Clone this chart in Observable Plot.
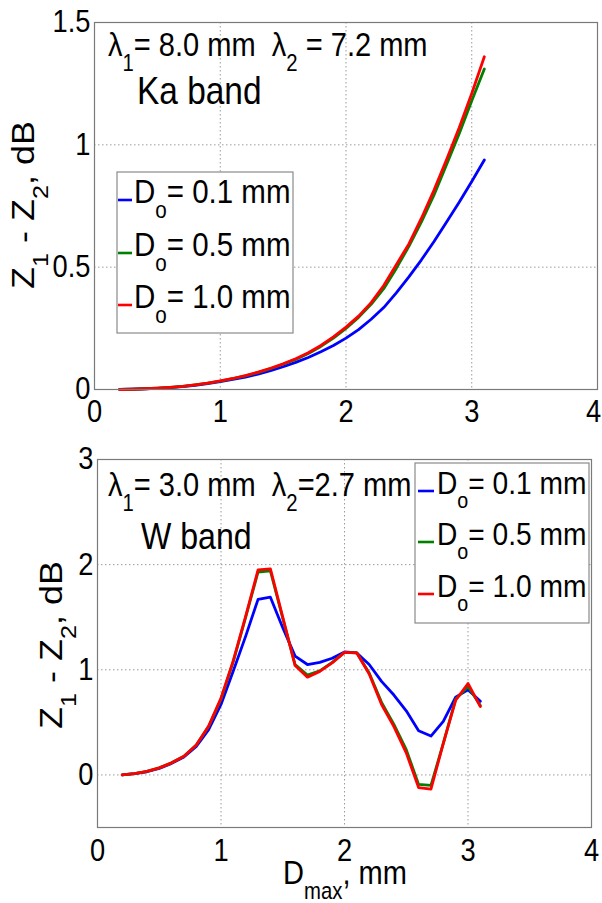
<!DOCTYPE html>
<html><head><meta charset="utf-8">
<script src="https://cdn.jsdelivr.net/npm/d3@7"></script>
<script src="https://cdn.jsdelivr.net/npm/@observablehq/plot@0.6"></script>
<style>
html,body{margin:0;padding:0;background:#fff;}
#chart{width:602px;height:903px;position:relative;overflow:hidden;}
#chart svg{display:block;}
</style></head><body><div id="chart"></div>
<script>
// ---------------- data ----------------
const dmax = [0.2,0.3,0.4,0.5,0.6,0.7,0.8,0.9,1.0,1.1,1.2,1.3,1.4,1.5,1.6,1.7,1.8,1.9,2.0,2.1,2.2,2.3,2.4,2.5,2.6,2.7,2.8,2.9,3.0,3.1];
const seriesKeys = ["0.1","0.5","1.0"];
const seriesLabels = ["D_{o}= 0.1 mm","D_{o}= 0.5 mm","D_{o}= 1.0 mm"];
const seriesColors = ["#0000ff","#008000","#ff0000"];

// Ka band (lambda1 = 8.0 mm, lambda2 = 7.2 mm)
const kaD01 = [0.000,0.001,0.003,0.005,0.008,0.012,0.017,0.024,0.032,0.041,0.051,0.063,0.077,0.093,0.111,0.131,0.154,0.180,0.210,0.245,0.287,0.335,0.395,0.460,0.530,0.605,0.685,0.765,0.850,0.938];
const kaD05 = [0.000,0.001,0.003,0.006,0.009,0.013,0.019,0.026,0.034,0.044,0.056,0.069,0.085,0.103,0.123,0.147,0.176,0.210,0.250,0.295,0.348,0.412,0.495,0.585,0.685,0.795,0.920,1.045,1.180,1.310];
const kaD10 = [0.000,0.001,0.003,0.006,0.009,0.013,0.019,0.026,0.035,0.045,0.057,0.071,0.087,0.105,0.126,0.150,0.180,0.215,0.255,0.300,0.355,0.425,0.510,0.595,0.700,0.815,0.940,1.070,1.210,1.360];

// W band (lambda1 = 3.0 mm, lambda2 = 2.7 mm)
const wD01 = [0.000,0.012,0.030,0.062,0.110,0.170,0.270,0.430,0.670,0.990,1.320,1.670,1.690,1.400,1.130,1.050,1.070,1.110,1.170,1.160,1.050,0.890,0.760,0.610,0.420,0.370,0.510,0.740,0.810,0.700];
const wD05 = [0.000,0.013,0.033,0.067,0.115,0.178,0.285,0.460,0.720,1.080,1.500,1.930,1.940,1.490,1.050,0.950,0.990,1.070,1.165,1.160,0.970,0.690,0.480,0.240,-0.090,-0.100,0.300,0.720,0.840,0.660];
const wD10 = [0.000,0.013,0.033,0.067,0.115,0.178,0.285,0.465,0.730,1.090,1.510,1.950,1.960,1.500,1.040,0.930,0.985,1.065,1.165,1.160,0.960,0.670,0.460,0.210,-0.120,-0.135,0.300,0.710,0.870,0.650];

const xTicks = [0,1,2,3,4];
const kaYTicks = [0,0.5,1,1.5];
const wYTicks = [0,1,2,3];
const kaTitle = "λ_{1}= 8.0 mm  λ_{2} = 7.2 mm";
const kaBand = "Ka band";
const wTitle = "λ_{1}= 3.0 mm  λ_{2}=2.7 mm";
const wBand = "W band";
const yLabel = "Z_{1} - Z_{2}, dB";
const xLabel = "D_{max}, mm";

// ---------------- helpers ----------------
const FONT = "'Liberation Sans', Arial, Helvetica, sans-serif";
const SX = 0.88; // horizontal squeeze of the original figure
const TICK = 31;

function toRows(vals) {
  const rows = [];
  vals.forEach((arr, s) => arr.forEach((v, i) => rows.push({D: dmax[i], v, s: seriesKeys[s]})));
  return rows;
}

function rich(text, str, size) {
  const parts = str.split(/(_\{[^}]*\})/);
  let sub = false;
  for (const p of parts) {
    if (!p) continue;
    if (p.startsWith("_{")) {
      text.append("tspan").attr("font-size", size * 0.7).attr("dy", size * 0.45).text(p.slice(2, -1));
      sub = true;
    } else {
      const t = text.append("tspan").text(p);
      if (sub) t.attr("dy", -size * 0.45);
      sub = false;
    }
  }
}

function addText(svg, x, y, str, size, anchor = "start") {
  const t = svg.append("text")
    .attr("transform", `translate(${x},${y}) scale(${SX},1)`)
    .attr("font-size", size).attr("font-family", FONT)
    .attr("fill", "#000").attr("text-anchor", anchor)
    .style("white-space", "pre");
  rich(t, str, size);
  return t;
}

function squeezeTicks(svgNode) {
  svgNode.querySelectorAll("g[aria-label$='tick label'] text").forEach(t => {
    const b = t.getBBox();
    const a = getComputedStyle(t).textAnchor;
    const ax = a === "end" ? b.x + b.width : a === "middle" ? b.x + b.width / 2 : b.x;
    const tr = t.getAttribute("transform") || "";
    t.setAttribute("transform", `${tr} translate(${ax},0) scale(${SX},1) translate(${-ax},0)`);
  });
}

function legend(svg, box, textX, lineX0, lineX1, baselines, size) {
  svg.append("rect").attr("x", box[0]).attr("y", box[1])
    .attr("width", box[2] - box[0]).attr("height", box[3] - box[1])
    .attr("fill", "#fff").attr("stroke", "#8a8a8a").attr("stroke-width", 1.2);
  seriesLabels.forEach((lab, i) => {
    svg.append("line").attr("x1", lineX0).attr("x2", lineX1)
      .attr("y1", baselines[i] - 3).attr("y2", baselines[i] - 3)
      .attr("stroke", seriesColors[i]).attr("stroke-width", 2.6);
    addText(svg, textX, baselines[i], lab, size);
  });
}

function panel({vals, yDomain, yTicks, height, mt, mb, ml, mr, xPad, lastDx}) {
  return Plot.plot({
    width: 602, height,
    marginTop: mt, marginBottom: mb, marginLeft: ml, marginRight: mr,
    style: {fontFamily: FONT, fontSize: TICK + "px", color: "#000", background: "#fff", overflow: "visible"},
    x: {domain: [0, 4]},
    y: {domain: yDomain},
    color: {domain: seriesKeys, range: seriesColors},
    marks: [
      Plot.gridX(xTicks.slice(1, -1), {stroke: "#9a9a9a", strokeOpacity: 1, strokeDasharray: "1.5,2.5", strokeWidth: 1}),
      Plot.gridY(yTicks.slice(0, -1), {stroke: "#9a9a9a", strokeOpacity: 1, strokeDasharray: "1.5,2.5", strokeWidth: 1}),
      Plot.axisX(xTicks.slice(0, -1), {tickSize: 0, tickPadding: xPad, label: null, tickFormat: d => String(d), fontSize: TICK}),
      Plot.axisX(xTicks.slice(-1), {tickSize: 0, tickPadding: xPad, label: null, tickFormat: d => String(d), fontSize: TICK, dx: lastDx}),
      Plot.axisY(yTicks, {tickSize: 0, tickPadding: 4, label: null, tickFormat: d => String(d), fontSize: TICK}),
      Plot.line(toRows(vals), {x: "D", y: "v", z: "s", stroke: "s", strokeWidth: 2.8, strokeLinejoin: "round"}),
      Plot.frame({stroke: "#7a7a7a", strokeWidth: 1.2})
    ]
  });
}

// ---------------- top panel (Ka) ----------------
const chartEl = document.getElementById("chart");
const kaSvg = panel({vals: [kaD01, kaD05, kaD10], yDomain: [0, 1.5], yTicks: kaYTicks,
  height: 432, mt: 22, mb: 43, ml: 94, mr: 5, xPad: 10, lastDx: -4});
chartEl.appendChild(kaSvg);
squeezeTicks(kaSvg);
{
  const s = d3.select(kaSvg);
  addText(s, 108, 56, kaTitle, 33);
  addText(s, 137, 104, kaBand, 38);
  legend(s, [117, 172, 293, 333], 134, 118, 132, [203, 256, 308], 33.5);
  s.append("text").attr("transform", `translate(34,205) scale(${SX},1) rotate(-90)`)
    .attr("font-size", 36).attr("font-family", FONT).attr("text-anchor", "middle")
    .style("white-space", "pre").call(t => rich(t, yLabel, 36));
}

// ---------------- bottom panel (W) ----------------
const wSvg = panel({vals: [wD01, wD05, wD10], yDomain: [-0.5, 3], yTicks: wYTicks,
  height: 471, mt: 27, mb: 76, ml: 97, mr: 11, xPad: 11, lastDx: 0});
chartEl.appendChild(wSvg);
squeezeTicks(wSvg);
{
  const s = d3.select(wSvg);
  addText(s, 108, 496 - 432, wTitle, 33);
  addText(s, 141, 549 - 432, wBand, 36.5);
  legend(s, [415, 463 - 432, 589, 623 - 432], 437, 418, 434, [494 - 432, 545 - 432, 597 - 432], 32);
  s.append("text").attr("transform", `translate(62,${645 - 432}) scale(${SX},1) rotate(-90)`)
    .attr("font-size", 36).attr("font-family", FONT).attr("text-anchor", "middle")
    .style("white-space", "pre").call(t => rich(t, yLabel, 36));
  addText(s, 345, 884 - 432, xLabel, 33, "middle");
}
</script></body></html>
